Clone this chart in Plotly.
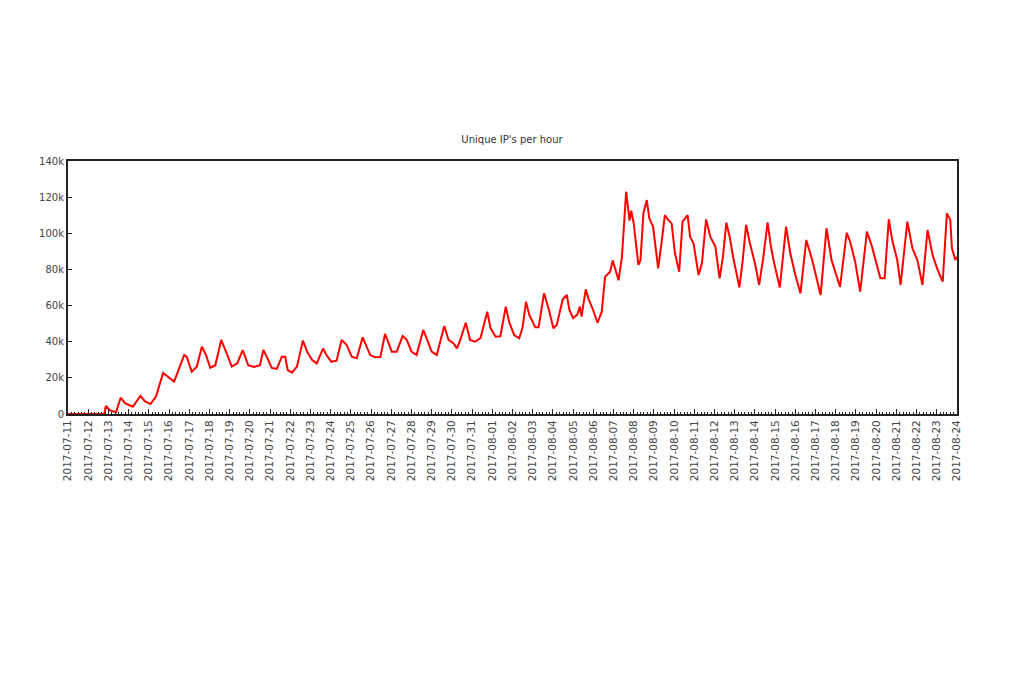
import pandas as pd
import plotly.graph_objects as go

title_text = "Unique IP's per hour"
start_time = "2017-07-11 00:00"

# hours since start_time
hours = [0, 43, 45, 50, 57, 62.6, 67.7, 77, 86, 91.5, 98, 104.5, 113, 119, 126, 131, 138, 141,
         147, 153, 159, 164, 169, 175, 182, 188.5, 194.5, 201, 207.5, 214, 221, 228, 232, 237,
         242, 248, 254, 258, 261, 266, 272, 279, 284, 290, 295.5, 303, 307, 313, 319, 325, 331,
         337, 343, 350, 355, 359, 365, 371, 376.6, 380.5, 384.6, 390.5, 397.6, 402.4, 408, 414,
         422, 426, 432, 438, 447, 452, 458, 462, 466, 472.5, 477.6, 483.5, 490, 498, 502, 508,
         513.6, 520, 524, 530, 536, 540, 544, 548, 555, 559, 565.5, 570.7, 576.6, 580.6, 587.7,
         592.5, 595.6, 600, 605, 608, 610, 615, 618, 623, 629, 634, 638, 644, 647, 651, 654, 658,
         663, 667, 669, 672, 674, 677.5, 680, 683.5, 687.5, 690.5, 695, 701, 705, 709, 713, 717,
         721, 726, 730, 736, 739, 743, 749, 753, 758, 763, 769, 774, 778, 782, 786, 790, 797.5,
         801.5, 805.5, 810, 816, 821, 826, 831, 835, 838, 845.5, 853, 858, 864, 870, 877, 884,
         890, 894, 901, 907, 917, 925, 929, 935, 941, 949, 955, 961, 965, 970, 975, 979, 985,
         989, 997, 1003, 1009, 1015, 1021, 1027, 1033, 1039, 1044, 1048, 1050, 1054, 1056]

# unique IPs (thousands)
values_k = [0, 0, 4.4, 2, 1, 9, 6, 4, 10, 7, 5.5, 9.6, 22.7, 20.6, 17.9, 24, 32.6, 31.7,
            23.4, 26.2, 37.2, 32.6, 25.5, 27, 41, 33.6, 26.2, 28, 35.4, 27, 26, 27, 35.4, 30.8,
            25.5, 25, 31.7, 31.7, 24.3, 22.9, 26.2, 40.6, 34.5, 29.9, 28, 36.3, 32.6, 28.9, 29.5, 41, 38.2,
            31.7, 30.8, 42.4, 37.2, 32.6, 31.4, 31.5, 44.3, 39.1, 34.5, 34.5, 43.2, 41, 34.5, 32.6,
            46.5, 41.9, 34.5, 32.6, 48.7, 41, 39, 36.3, 41, 50.5, 41, 40, 42, 56.6, 47.4, 42.8,
            43, 59.4, 51, 43.7, 41.9, 48, 62.1, 54.8, 48, 48, 66.8, 58.5, 47.4, 49.2, 63.5,
            65.9, 57.6, 53, 55, 59.4, 53.9, 69, 64, 58.5, 50.5, 56.6, 76, 78.7, 85, 78.7, 74, 87,
            123, 107, 112.5, 105.5, 96.3, 82.5, 85, 111, 118.4, 108.3, 103.7, 80.6, 94.5, 110, 107.4, 105.5,
            88.9, 78.7, 106.4, 110, 98, 94.5, 76.9, 83.4, 107.7, 98, 92.6, 75.1, 87.1, 105.9, 98, 87, 70.1,
            85.2, 104.6, 94.5, 83.4, 71.4, 87, 106, 92.6, 85.2, 70, 103.7, 88.9, 76.9, 66.8, 96.3, 85.2,
            74.2, 65.9, 102.8, 85.2, 70.4, 100.3, 95.4, 84.3, 67.7, 100.9, 92.6, 81.5, 75.1, 75.1, 107.7, 96.3, 85.2,
            71.4, 106.4, 91.7, 85.2, 71.4, 101.8, 88, 79.7, 73.2, 111, 107.4, 91.7, 85.2, 87]

y_tick_vals = [0, 20000, 40000, 60000, 80000, 100000, 120000, 140000]
y_tick_text = ["0", "20k", "40k", "60k", "80k", "100k", "120k", "140k"]
x_range = ["2017-07-11", "2017-08-24"]

times = pd.Timestamp(start_time) + pd.to_timedelta(hours, unit="h")
values = [v * 1000 for v in values_k]

fig = go.Figure()
fig.add_trace(go.Scatter(x=times, y=values, mode="lines",
                         line=dict(color="#ff0000", width=2), showlegend=False))

font_family = "DejaVu Sans, Liberation Sans, sans-serif"
fig.update_layout(
    width=1024, height=682,
    margin=dict(l=68, r=67, t=161, b=268),
    paper_bgcolor="white", plot_bgcolor="white",
    title=dict(text=title_text, x=0.5, xanchor="center", y=1 - 139 / 682, yanchor="middle",
               font=dict(family=font_family, size=10, color="#333333")),
    font=dict(family=font_family, size=10, color="#444444"),
)
fig.update_xaxes(
    type="date", range=x_range, dtick=86400000, tick0="2017-07-11",
    tickformat="%Y-%m-%d", tickangle=-90, tickfont=dict(size=10.5, color="#444444"),
    showgrid=False, zeroline=False, showline=True, linecolor="#222222", linewidth=2,
    mirror=True, ticks="inside", ticklen=5, tickcolor="#222222", tickwidth=1,
    minor=dict(dtick=14400000, ticks="inside", ticklen=2.5, tickcolor="#222222", tickwidth=1),
)
fig.update_yaxes(
    range=[0, 140000], tickvals=y_tick_vals, ticktext=y_tick_text,
    tickfont=dict(size=10, color="#444444"),
    showgrid=False, zeroline=False, showline=True, linecolor="#222222", linewidth=2,
    mirror=True, ticks="inside", ticklen=4, tickcolor="#222222", tickwidth=1,
)

fig.write_html("out.html")
